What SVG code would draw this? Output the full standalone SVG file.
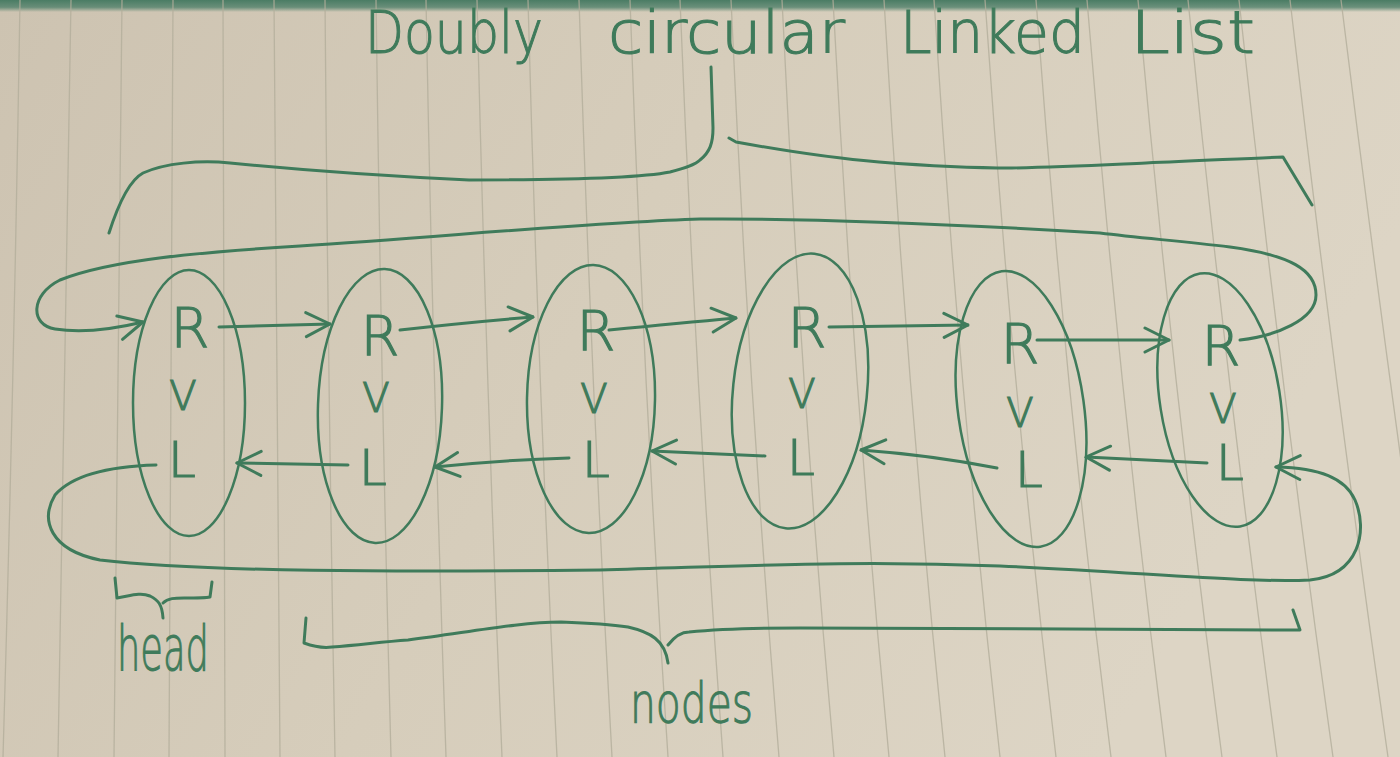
<svg xmlns="http://www.w3.org/2000/svg" width="1400" height="757" viewBox="0 0 1400 757">
<style>
.ink{fill:none;stroke:#3f7b5b;stroke-width:3;stroke-linecap:round;stroke-linejoin:round}
.node{fill:none;stroke:#3f7b5b;stroke-width:2.5}
.lt{fill:#3f7b5b;stroke:#3f7b5b;stroke-width:1.2;font-family:"DejaVu Sans","Liberation Sans",sans-serif;font-weight:200;text-anchor:middle}
.R{font-size:56px}
.V{font-size:40px}
.L{font-size:50px}
.hand{fill:#3f7b5b;stroke:#3f7b5b;stroke-width:1.1;font-family:"DejaVu Sans","Liberation Sans",sans-serif;font-weight:200}
</style>
<defs>
<linearGradient id="paper" x1="0" y1="0" x2="1" y2="0.3">
<stop offset="0" stop-color="#cdc3b1"/>
<stop offset="0.5" stop-color="#d6cdbb"/>
<stop offset="1" stop-color="#ddd5c5"/>
</linearGradient>
<linearGradient id="strip" x1="0" y1="0" x2="0" y2="1">
<stop offset="0" stop-color="#4a7c64"/>
<stop offset="0.6" stop-color="#4f806a" stop-opacity="0.8"/>
<stop offset="1" stop-color="#4f806a" stop-opacity="0"/>
</linearGradient>
<marker id="ah" viewBox="0 0 20 20" refX="19" refY="10" markerWidth="30" markerHeight="30" markerUnits="userSpaceOnUse" orient="auto">
<path d="M3,2 L19,10 L3,18" fill="none" stroke="#3f7b5b" stroke-width="2" stroke-linecap="round" stroke-linejoin="round"/>
</marker>
</defs>
<rect x="0" y="0" width="1400" height="757" fill="url(#paper)"/>
<rect x="0" y="0" width="1400" height="12" fill="url(#strip)"/>
<path fill="none" stroke="#b3ae9b" stroke-width="1.3" stroke-opacity="0.8" d="M20,0 Q14,380 3,757 M71,0 Q66,380 58,757 M122,0 Q118,380 114,757 M173,0 Q171,380 169,757 M223,0 Q223,380 225,757 M274,0 Q276,380 280,757 M325,0 Q328,380 335,757 M376,0 Q381,380 391,757 M426,0 Q433,380 446,757 M477,0 Q486,380 502,757 M528,0 Q538,380 557,757 M579,0 Q591,380 612,757 M630,0 Q643,380 668,757 M680,0 Q695,380 723,757 M731,0 Q748,380 779,757 M782,0 Q800,380 834,757 M833,0 Q853,380 889,757 M884,0 Q906,380 945,757 M934,0 Q958,380 1000,757 M985,0 Q1011,380 1056,757 M1036,0 Q1064,380 1111,757 M1087,0 Q1118,380 1166,757 M1138,0 Q1172,380 1222,757 M1188,0 Q1226,380 1277,757 M1239,0 Q1280,380 1333,757 M1290,0 Q1334,380 1388,757 M1341,0 Q1388,380 1443,757"/>

<g id="title">
<text class="hand" font-size="58" y="53"><tspan x="365" textLength="178" lengthAdjust="spacingAndGlyphs">Doubly</tspan><tspan x="608" textLength="237" lengthAdjust="spacingAndGlyphs">circular</tspan><tspan x="900" textLength="185" lengthAdjust="spacingAndGlyphs">Linked</tspan><tspan x="1130" textLength="125" lengthAdjust="spacingAndGlyphs">List</tspan></text>
</g>

<g id="braces">
<path class="ink" d="M109,233 C118,205 130,180 143,173 C165,163 200,160 230,163 C300,170 360,175 469,180 C560,180 640,178 670,172 C685,168 695,165 700,160 C710,152 713,143 713,128 L711,67"/>
<path class="ink" d="M729,138 L736,142 C780,150 830,158 879,162 C930,166 970,168 1012,168 C1060,167 1100,165 1146,163 C1200,161 1250,158 1283,157 L1312,205"/>
<path class="ink" d="M115,578 L117,598 C130,596 140,592 150,596 C158,600 162,604 163,618 M163,603 C168,598 175,598 184,598 C195,598 205,598 210,597 L212,582"/>
<path class="ink" d="M306,618 L304,643 C315,647 325,648 332,647 C360,645 380,642 408,640 C470,632 520,622 561,622 C590,623 615,625 628,627 C650,632 665,640 668,663 M668,645 C675,636 682,632 689,632 C720,629 760,628 800,628 C1000,628 1200,630 1300,630 L1293,610"/>
</g>

<g id="node1">
<ellipse class="node" cx="189" cy="403" rx="56" ry="133"/>
<text class="lt R" x="190" y="347">R</text>
<text class="lt V" x="183" y="410">V</text>
<text class="lt L" x="182" y="477">L</text>
</g>
<g id="node2">
<ellipse class="node" cx="380" cy="406" rx="62" ry="137" transform="rotate(2 380 406)"/>
<text class="lt R" x="380" y="355">R</text>
<text class="lt V" x="376" y="412">V</text>
<text class="lt L" x="373" y="485">L</text>
</g>
<g id="node3">
<ellipse class="node" cx="591" cy="399" rx="64" ry="134" transform="rotate(1 591 399)"/>
<text class="lt R" x="596" y="350">R</text>
<text class="lt V" x="594" y="413">V</text>
<text class="lt L" x="596" y="477">L</text>
</g>
<g id="node4">
<ellipse class="node" cx="800" cy="391" rx="67" ry="138" transform="rotate(6 800 391)"/>
<text class="lt R" x="807" y="347">R</text>
<text class="lt V" x="802" y="408">V</text>
<text class="lt L" x="801" y="475">L</text>
</g>
<g id="node5">
<ellipse class="node" cx="1021" cy="409" rx="63" ry="139" transform="rotate(-8 1021 409)"/>
<text class="lt R" x="1020" y="363">R</text>
<text class="lt V" x="1020" y="427">V</text>
<text class="lt L" x="1029" y="487">L</text>
</g>
<g id="node6">
<ellipse class="node" cx="1220" cy="400" rx="60" ry="128" transform="rotate(-9 1220 400)"/>
<text class="lt R" x="1221" y="365">R</text>
<text class="lt V" x="1223" y="423">V</text>
<text class="lt L" x="1230" y="480">L</text>
</g>

<g id="connectors">
<path class="ink" marker-end="url(#ah)" d="M219,327 L330,324"/>
<path class="ink" marker-end="url(#ah)" d="M400,330 Q470,322 533,317"/>
<path class="ink" marker-end="url(#ah)" d="M609,330 Q680,323 736,318"/>
<path class="ink" marker-end="url(#ah)" d="M829,327 L968,325"/>
<path class="ink" marker-end="url(#ah)" d="M1037,340 L1169,340"/>
<path class="ink" marker-end="url(#ah)" d="M348,465 L237,463"/>
<path class="ink" marker-end="url(#ah)" d="M569,458 Q500,460 435,467"/>
<path class="ink" marker-end="url(#ah)" d="M765,456 L652,451"/>
<path class="ink" marker-end="url(#ah)" d="M997,468 Q930,455 861,450"/>
<path class="ink" marker-end="url(#ah)" d="M1207,463 L1086,457"/>
<path class="ink" marker-end="url(#ah)" d="M1240,340 C1275,336 1316,320 1316,295 C1316,270 1290,255 1230,247 C1180,241 1140,238 1100,233 C950,224 820,218 700,219 C600,222 450,236 300,246 C200,252 110,260 60,280 C30,295 30,325 55,329 C80,333 110,330 143,322"/>
<path class="ink" marker-end="url(#ah)" d="M156,465 C120,466 75,472 55,495 C40,520 50,550 100,560 C200,572 400,572 600,570 C750,566 850,560 1000,566 C1150,573 1250,583 1310,580 C1360,575 1368,530 1355,500 C1345,478 1320,468 1276,467"/>
</g>

<g id="labels">
<text class="hand" font-size="62" x="117" y="670" textLength="92" lengthAdjust="spacingAndGlyphs">head</text>
<text class="hand" font-size="56" x="630" y="722" textLength="123" lengthAdjust="spacingAndGlyphs">nodes</text>
</g>
</svg>
